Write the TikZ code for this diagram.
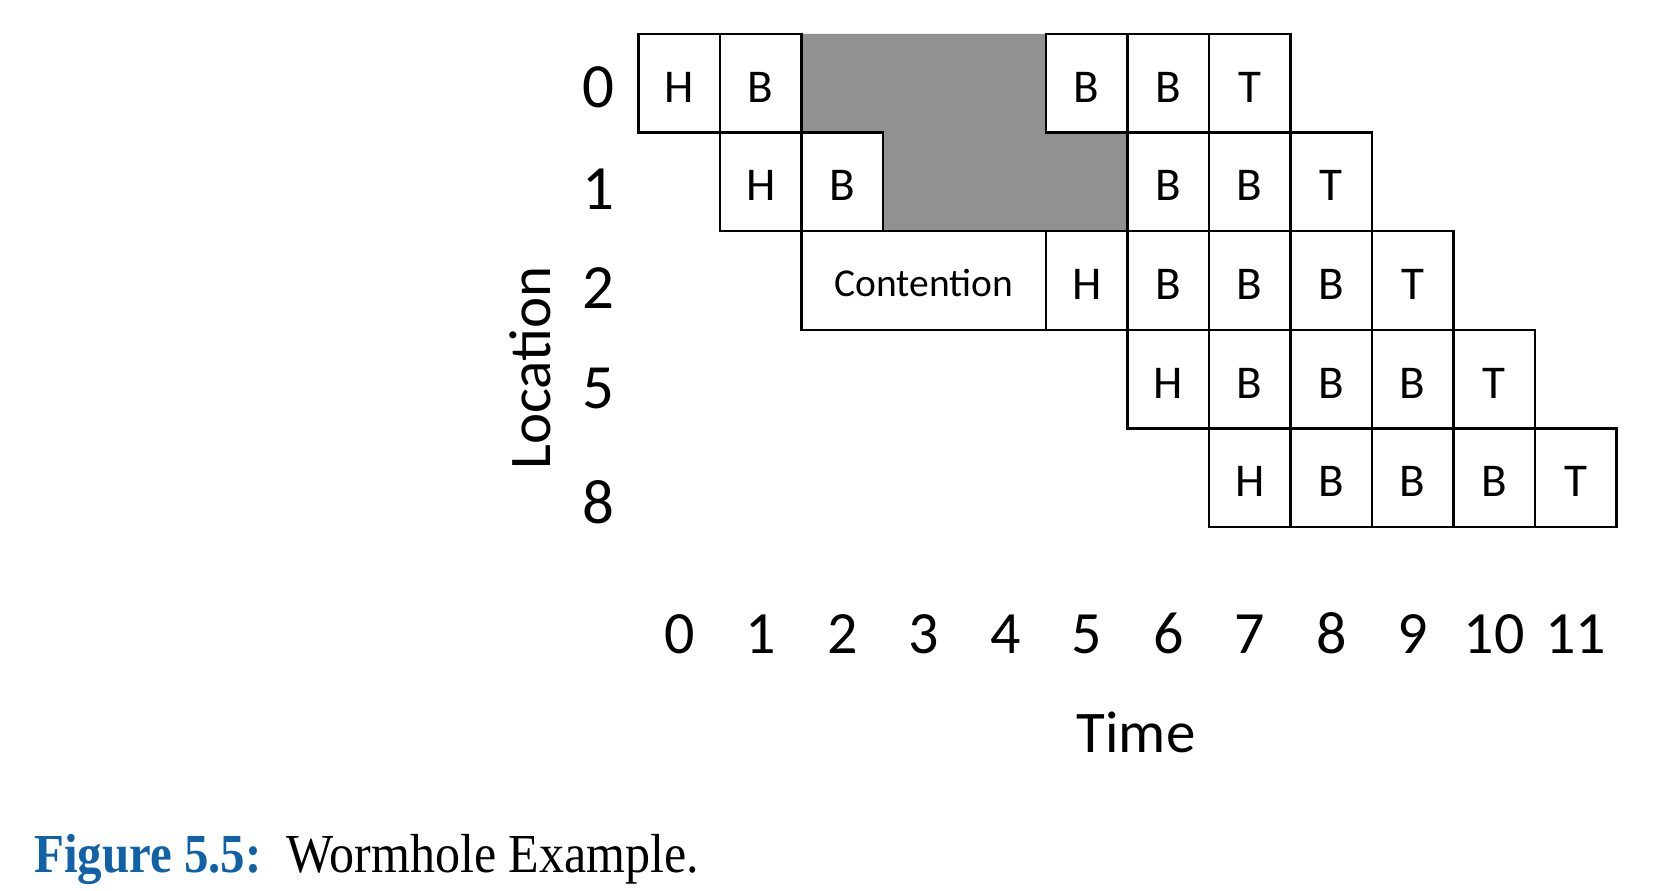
\documentclass[tikz,border=0pt]{standalone}
\usepackage{fontspec}
\newfontfamily\calfont{Carlito}
\newfontfamily\capfont{Liberation Serif}
\definecolor{blockgray}{RGB}{145,145,145}
\definecolor{capblue}{RGB}{16,98,168}
\tikzset{
  cell/.style={draw, line width=2.4pt, minimum width=81.5pt, minimum height=98.6pt,
    inner sep=0pt, text height=38pt, text depth=0pt,
    font=\calfont\fontsize{47}{47}\selectfont},
  widecell/.style={cell, minimum width=244.5pt, text height=32.4pt,
    font=\calfont\fontsize{39.5}{39.5}\selectfont},
  rowlab/.style={inner sep=0pt, text height=40pt, text depth=0pt,
    font=\calfont\fontsize{63}{63}\selectfont},
  collab/.style={inner sep=0pt, text height=38pt, text depth=0pt,
    font=\calfont\fontsize{60}{60}\selectfont},
  axislab/.style={inner sep=0pt, text height=38pt, text depth=0pt,
    font=\calfont\fontsize{59}{59}\selectfont},
  captext/.style={inner sep=0pt, anchor=base west,
    font=\capfont\fontsize{55}{55}\selectfont}
}
\begin{document}
\begin{tikzpicture}[x=1pt,y=-1pt]
\path[use as bounding box] (0,0) rectangle (1662,891);
% blocked region
\fill[blockgray] (801.5,34) -- (1046,34) -- (1046,132.6) -- (1127.5,132.6)
  -- (1127.5,231.2) -- (883,231.2) -- (883,132.6) -- (801.5,132.6) -- cycle;
% row 0
\foreach \c/\t in {0/H,1/B,5/B,6/B,7/T}
  \node[cell] (r0c\c) at ({679.25+81.5*\c},83.3) {\t};
% row 1
\foreach \c/\t in {1/H,2/B,6/B,7/B,8/T}
  \node[cell] (r1c\c) at ({679.25+81.5*\c},181.9) {\t};
% row 2
\node[widecell] (r2cont) at (923.75,280.5) {Contention};
\foreach \c/\t in {5/H,6/B,7/B,8/B,9/T}
  \node[cell] (r2c\c) at ({679.25+81.5*\c},280.5) {\t};
% row 5
\foreach \c/\t in {6/H,7/B,8/B,9/B,10/T}
  \node[cell] (r5c\c) at ({679.25+81.5*\c},379.1) {\t};
% row 8
\foreach \c/\t in {7/H,8/B,9/B,10/B,11/T}
  \node[cell] (r8c\c) at ({679.25+81.5*\c},477.7) {\t};
% location labels
\foreach \l/\y in {0/87,1/189,2/288,5/388,8/503}
  \node[rowlab] (loc\l) at (598,\y) {\l};
\node[axislab, rotate=90] (location) at (531,368) {Location};
% time labels
\foreach \c in {0,...,11}
  \node[collab] (t\c) at ({679.25+81.5*\c},634) {\c};
\node[axislab] (time) at (1136,733) {Time};
% caption
\node[captext, text=capblue] (capnum) at (34,872) {\scalebox{0.89}[1]{\bfseries Figure 5.5:}};
\node[captext] (captitle) at (286,872) {\scalebox{0.91}[1]{Wormhole Example.}};
\end{tikzpicture}
\end{document}
